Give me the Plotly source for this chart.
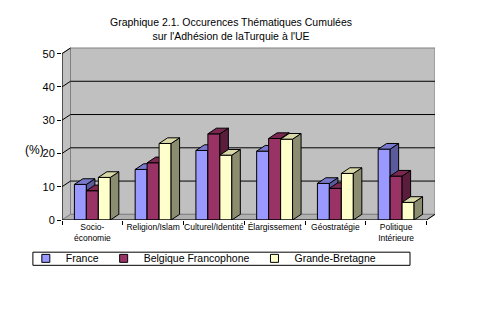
import plotly.graph_objects as go

categories = ["Socio-<br>économie", "Religion/Islam", "Culturel/Identité",
              "Élargissement", "Géostratégie", "Politique<br>Intérieure"]
series_names = ["France", "Belgique Francophone", "Grande-Bretagne"]
france = [10.7, 15.2, 20.9, 20.7, 11.0, 21.3]
belgique = [8.8, 17.2, 25.9, 24.5, 9.5, 13.2]
bretagne = [12.8, 23.0, 19.5, 24.3, 14.0, 5.3]
y_ticks = [0, 10, 20, 30, 40, 50]

series_values = [france, belgique, bretagne]
front_colors = ["#9999FF", "#993366", "#FFFFCC"]
side_colors = ["#5A5A9C", "#5A1E3C", "#8C8C70"]
top_colors = ["#7878CC", "#7A2850", "#D8D8A8"]

dx, dy = 0.14, 1.7        # depth offset (x units, y units)
bw = 0.197                # bar width
n = len(categories)
FONT = "Liberation Sans"

fig = go.Figure()

for s, (name, vals) in enumerate(zip(series_names, series_values)):
    fx, fy, sx, sy, tx, ty = [], [], [], [], [], []
    for i, v in enumerate(vals):
        x0 = i - 1.5 * bw + s * bw
        x1 = x0 + bw
        fx += [x0, x1, x1, x0, x0, None]
        fy += [0, 0, v, v, 0, None]
        sx += [x1, x1 + dx, x1 + dx, x1, x1, None]
        sy += [0, dy, v + dy, v, 0, None]
        tx += [x0, x1, x1 + dx, x0 + dx, x0, None]
        ty += [v, v, v + dy, v + dy, v, None]
    fig.add_trace(go.Scatter(x=fx, y=fy, mode="lines", fill="toself", showlegend=False,
                             fillcolor=front_colors[s], line=dict(color="black", width=1),
                             hoverinfo="skip"))
    fig.add_trace(go.Scatter(x=sx, y=sy, mode="lines", fill="toself", showlegend=False,
                             fillcolor=side_colors[s], line=dict(color="black", width=1),
                             hoverinfo="skip"))
    fig.add_trace(go.Scatter(x=tx, y=ty, mode="lines", fill="toself", showlegend=False,
                             fillcolor=top_colors[s], line=dict(color="black", width=1),
                             hoverinfo="skip"))
    # legend entry (square swatch)
    fig.add_trace(go.Scatter(x=[None], y=[None], mode="markers", name=name,
                             marker=dict(symbol="square", size=8, color=front_colors[s],
                                         line=dict(color="black", width=1))))

xl, xr = -0.5, n - 0.5
ymax = y_ticks[-1]
shapes = []
# back wall
shapes.append(dict(type="rect", x0=xl + dx, x1=xr + dx, y0=dy, y1=ymax + dy,
                   fillcolor="#C0C0C0", line=dict(color="#808080", width=1), layer="below"))
# left wall
shapes.append(dict(type="path",
                   path=f"M {xl},0 L {xl+dx},{dy} L {xl+dx},{ymax+dy} L {xl},{ymax} Z",
                   fillcolor="#C0C0C0", line=dict(color="#808080", width=1), layer="below"))
# floor
shapes.append(dict(type="path",
                   path=f"M {xl},0 L {xr},0 L {xr+dx},{dy} L {xl+dx},{dy} Z",
                   fillcolor="#B0B0B0", line=dict(color="#808080", width=1), layer="below"))
# gridlines
for t in y_ticks[1:-1]:
    shapes.append(dict(type="line", x0=xl + dx, x1=xr + dx, y0=t + dy, y1=t + dy,
                       line=dict(color="black", width=1), layer="below"))
    shapes.append(dict(type="line", x0=xl, x1=xl + dx, y0=t, y1=t + dy,
                       line=dict(color="black", width=1), layer="below"))
# axes lines
shapes.append(dict(type="line", x0=xl, x1=xl, y0=0, y1=ymax, line=dict(color="black", width=1)))
shapes.append(dict(type="line", x0=xl, x1=xr, y0=0, y1=0, line=dict(color="black", width=1)))
shapes.append(dict(type="line", x0=xr, x1=xr + dx, y0=0, y1=dy, line=dict(color="black", width=1)))
shapes.append(dict(type="line", x0=xl, x1=xl + dx, y0=ymax, y1=ymax + dy,
                   line=dict(color="black", width=1)))
# legend box
shapes.append(dict(type="rect", xref="paper", yref="paper", x0=-0.078, x1=0.933,
                   y0=-0.262, y1=-0.186, line=dict(color="black", width=1),
                   fillcolor="white", layer="below"))

fig.update_layout(
    width=500, height=330,
    margin=dict(l=62, r=65, t=47, b=110),
    paper_bgcolor="white", plot_bgcolor="white",
    font=dict(family=FONT, color="black", size=10),
    title=dict(text="Graphique 2.1. Occurences Thématiques Cumulées<br>sur l'Adhésion de laTurquie à l'UE",
               x=0.462, xanchor="center", xref="container",
               y=0.92, yanchor="top", yref="container",
               font=dict(family=FONT, size=10.5, color="black")),
    xaxis=dict(range=[xl, xr + dx], tickmode="array", tickvals=list(range(n)),
               ticktext=categories, ticks="", showgrid=False, zeroline=False,
               showline=False, tickfont=dict(size=8.5),
               minor=dict(tickmode="array", tickvals=[i - 0.5 for i in range(n + 1)],
                          ticks="outside", ticklen=4, tickcolor="black", showgrid=False)),
    yaxis=dict(range=[0, ymax + dy + 0.3], tickmode="array", tickvals=y_ticks,
               ticks="outside", ticklen=4, tickcolor="black", showgrid=False,
               zeroline=False, showline=False, tickfont=dict(size=11)),
    showlegend=True,
    legend=dict(orientation="h", x=-0.097, xanchor="left", y=-0.138, yanchor="top",
                font=dict(size=10.5), bgcolor="rgba(0,0,0,0)", itemwidth=30,
                traceorder="normal"),
    shapes=shapes,
    annotations=[dict(text="(%)", xref="paper", yref="paper", x=-0.043, y=0.405,
                      xanchor="right", yanchor="middle", showarrow=False,
                      font=dict(size=12, family=FONT))],
)

fig.write_html("out.html")
